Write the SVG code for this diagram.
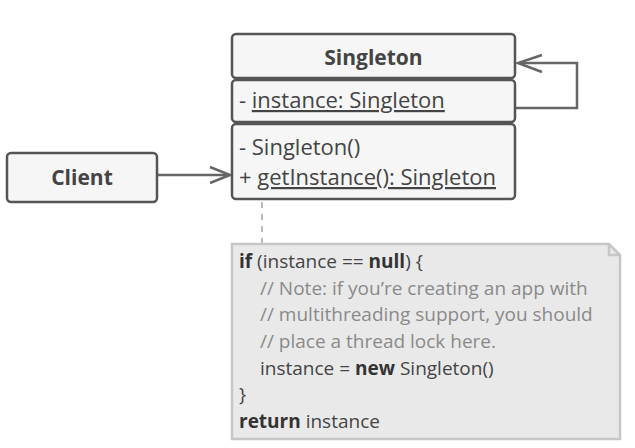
<svg xmlns="http://www.w3.org/2000/svg" width="635" height="448" viewBox="0 0 635 448">
<style>
.box{fill:#f6f6f6;stroke:#555;stroke-width:2.5}
.t{font-family:"Open Sans","Noto Sans",sans-serif;font-size:22px;fill:#444}
.h{font-family:"Open Sans","Noto Sans",sans-serif;font-size:21px;font-weight:bold;fill:#444}
.n{font-family:"Open Sans","Noto Sans",sans-serif;font-size:19px;fill:#444}
.c{fill:#8a8a8a}
.b{font-weight:bold;fill:#333}
.u{text-decoration:underline}
.con{fill:none;stroke:#666;stroke-width:2.5}
</style>
<rect width="635" height="448" fill="#fff"/>
<g id="connectors">
<path class="con" d="M515,108 H577 V63 H519"/>
<polyline class="con" points="542,55 518,63 542,72"/>
<path class="con" d="M157,175 H230"/>
<polyline class="con" points="210,167 230,175 210,183"/>
<path d="M262,202 V244" fill="none" stroke="#bbb" stroke-width="2" stroke-dasharray="6 6"/>
</g>
<g id="singleton">
<rect class="box" x="232" y="34" width="283" height="44" rx="4"/>
<rect class="box" x="232" y="80" width="283" height="42" rx="4"/>
<rect class="box" x="232" y="124" width="283" height="75" rx="4"/>
<text class="h" x="373.5" y="65" text-anchor="middle">Singleton</text>
<text class="t" x="239" y="108">- <tspan class="u">instance: Singleton</tspan></text>
<text class="t" x="239" y="155">- Singleton()</text>
<text class="t" x="239" y="185">+ <tspan class="u">getInstance(): Singleton</tspan></text>
</g>
<g id="client">
<rect class="box" x="7" y="153" width="150" height="49" rx="4"/>
<text class="h" x="82" y="185" text-anchor="middle">Client</text>
</g>
<g id="note">
<path d="M232,244 H609 L620,255 V439 H232 Z" fill="#e9e9e9" stroke="#c6c6c6" stroke-width="2.5"/>
<path d="M609,244 V255 H620" fill="none" stroke="#c6c6c6" stroke-width="2.5"/>
<text class="n" x="239" y="268"><tspan class="b">if</tspan> (instance == <tspan class="b">null</tspan>) {</text>
<text class="n c" x="260" y="295">// Note: if you’re creating an app with</text>
<text class="n c" x="260" y="321">// multithreading support, you should</text>
<text class="n c" x="260" y="348">// place a thread lock here.</text>
<text class="n" x="260" y="375">instance = <tspan class="b">new</tspan> Singleton()</text>
<text class="n" x="239" y="401">}</text>
<text class="n" x="239" y="428"><tspan class="b">return</tspan> instance</text>
</g>
</svg>
